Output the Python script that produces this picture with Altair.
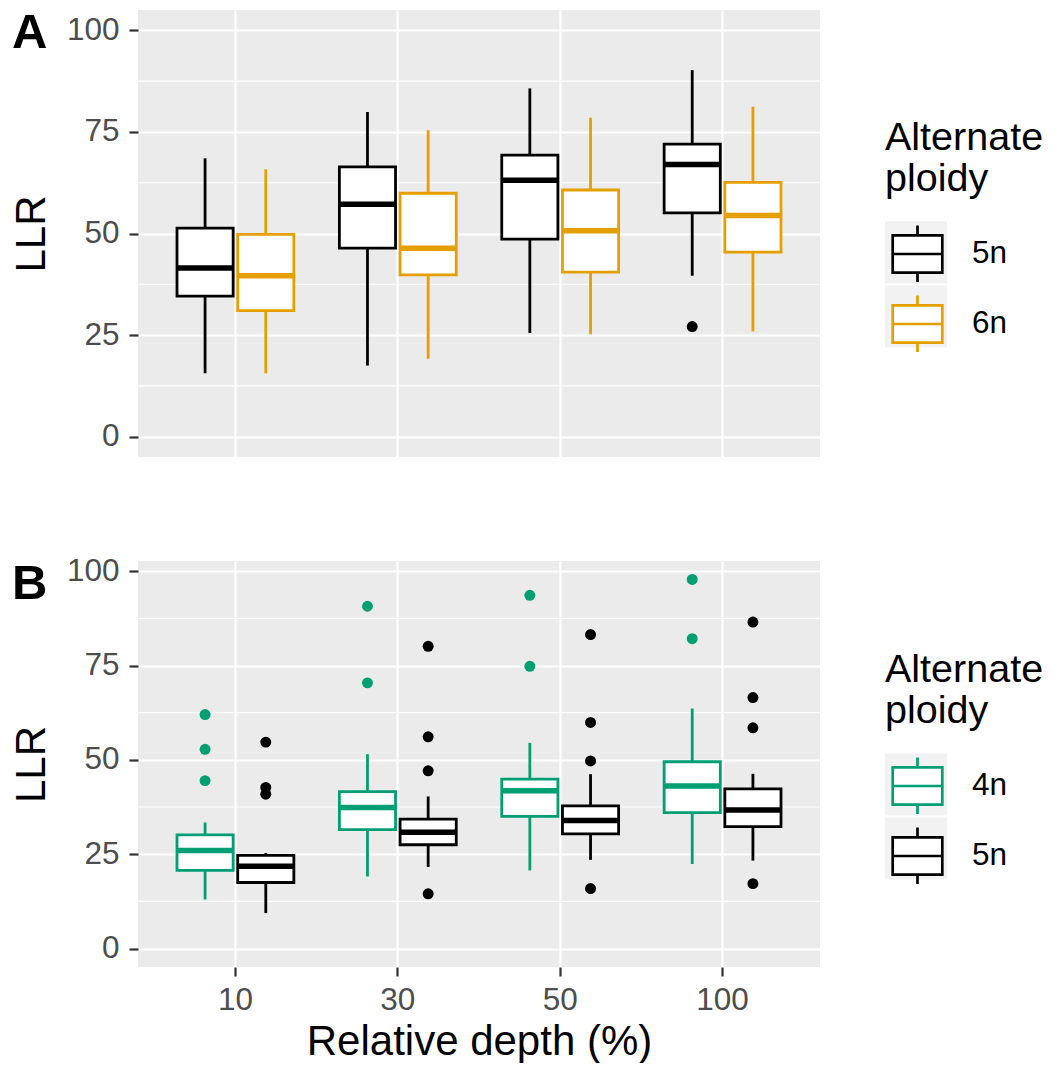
import altair as alt
import pandas as pd

FONT = "Liberation Sans"

depths = ["10", "30", "50", "100"]
panel_labels = ["A", "B"]
legend_title = ["Alternate", "ploidy"]

# ---- Panel A: alternate ploidy 5n / 6n ----
a_groups = ["5n", "6n"]
a_colors = ["#000000", "#E69F00"]
a_lower = {"5n": [15.6, 17.5, 25.5, 39.6], "6n": [15.6, 19.2, 25.2, 25.9]}
a_q1 = {"5n": [34.6, 46.4, 48.6, 55.1], "6n": [31.0, 39.8, 40.5, 45.4]}
a_med = {"5n": [41.5, 57.2, 63.1, 67.0], "6n": [39.6, 46.4, 50.7, 54.4]}
a_q3 = {"5n": [51.3, 66.4, 69.3, 72.0], "6n": [49.8, 59.9, 60.7, 62.6]}
a_upper = {"5n": [68.5, 79.9, 85.7, 90.2], "6n": [65.8, 75.4, 78.5, 81.2]}
a_out = {"5n": {"10": [], "30": [], "50": [], "100": [27.1]},
         "6n": {"10": [], "30": [], "50": [], "100": []}}

# ---- Panel B: alternate ploidy 4n / 5n ----
b_groups = ["4n", "5n"]
b_colors = ["#009E73", "#000000"]
b_lower = {"4n": [13.0, 19.1, 20.7, 22.4], "5n": [9.4, 21.6, 23.5, 23.3]}
b_q1 = {"4n": [20.7, 31.5, 35.0, 36.0], "5n": [17.5, 27.5, 30.4, 32.3]}
b_med = {"4n": [26.0, 37.4, 41.8, 43.1], "5n": [21.8, 30.8, 33.9, 36.7]}
b_q3 = {"4n": [30.1, 41.6, 44.9, 49.5], "5n": [24.7, 34.3, 37.8, 42.3]}
b_upper = {"4n": [33.4, 51.5, 54.5, 63.6], "5n": [25.3, 40.3, 46.2, 46.3]}
b_out = {"4n": {"10": [62.0, 52.8, 44.5], "30": [90.7, 70.4], "50": [93.6, 74.8], "100": [97.8, 82.1]},
         "5n": {"10": [54.7, 42.7, 40.9], "30": [80.1, 56.1, 47.1, 14.5],
                "50": [83.2, 59.9, 49.7, 15.9], "100": [86.5, 66.5, 58.5, 17.2]}}

y_ticks = [0, 25, 50, 75, 100]
y_minor = [12.5, 37.5, 62.5, 87.5]

BOX_PATH = ("M-0.8,-0.6L0.8,-0.6L0.8,0.6L-0.8,0.6Z M-0.8,0L0.8,0 "
            "M0,-0.6L0,-0.92 M0,0.6L0,0.9")


def make_box_df(groups, lower, q1, med, q3, upper):
    rows = []
    for g in groups:
        for i, d in enumerate(depths):
            rows.append({"depth": d, "ploidy": g, "key": "key " + g, "lower": lower[g][i],
                         "q1": q1[g][i], "median": med[g][i], "q3": q3[g][i],
                         "upper": upper[g][i]})
    return pd.DataFrame(rows)


def make_out_df(groups, out):
    rows = []
    for g in groups:
        for d in depths:
            for v in out[g][d]:
                rows.append({"depth": d, "ploidy": g, "value": v})
    return pd.DataFrame(rows, columns=["depth", "ploidy", "value"])


def panel(box_df, out_df, groups, colors, ydomain, height, label, show_x, legend_y):
    if show_x:
        xaxis = alt.Axis(title="Relative depth (%)", labelAngle=0, tickSize=9, labelPadding=8,
                         titlePadding=6)
    else:
        xaxis = alt.Axis(title=None, labels=False, ticks=False, domain=False)
    x = alt.X("depth:N", sort=depths, axis=xaxis,
              scale=alt.Scale(paddingInner=0, paddingOuter=0.1))
    xo = alt.XOffset("ploidy:N", sort=groups,
                     scale=alt.Scale(domain=groups, paddingInner=0.075, paddingOuter=0.375))
    yscale = alt.Scale(domain=ydomain, nice=False, zero=False)
    yaxis = alt.Axis(title="LLR", values=y_ticks, tickSize=9, labelPadding=10, titlePadding=13)
    sscale = alt.Scale(domain=groups, range=colors)
    # same colours, listed in reverse so this scale stays separate from the legend's
    cscale = alt.Scale(domain=groups[::-1], range=colors[::-1])
    keys = ["key " + g for g in groups]

    box_legend = alt.Legend(title=legend_title, symbolType=BOX_PATH, symbolSize=3844,
                            symbolStrokeWidth=2.7, symbolFillColor="white", symbolOpacity=1,
                            orient="none", legendX=747, legendY=legend_y, zindex=2)

    minor = alt.Chart(pd.DataFrame({"v": y_minor})).mark_rule(
        color="white", strokeWidth=1.1
    ).encode(y=alt.Y("v:Q", scale=yscale, axis=yaxis))

    keybg = alt.Chart(box_df).mark_square(opacity=0).encode(
        x=x, xOffset=xo, y=alt.Y("median:Q", scale=yscale, axis=yaxis),
        fill=alt.Fill("key:N", scale=alt.Scale(domain=keys, range=["#F2F2F2", "#F2F2F2"]),
                      legend=alt.Legend(title=[" ", " "], labelExpr="''", symbolType="square",
                                        symbolSize=3844, symbolOpacity=1, symbolStrokeWidth=0,
                                        symbolFillColor="#F2F2F2", zindex=1,
                                        orient="none", legendX=747, legendY=legend_y)),
    )

    whisk = alt.Chart(box_df).mark_rule(strokeWidth=2.8).encode(
        x=x, xOffset=xo, y=alt.Y("lower:Q", scale=yscale, axis=yaxis), y2="upper:Q",
        stroke=alt.Stroke("ploidy:N", scale=sscale, legend=box_legend),
    )
    box = alt.Chart(box_df).mark_bar(fill="white", strokeWidth=2.8).encode(
        x=x, xOffset=xo, y=alt.Y("q1:Q", scale=yscale, axis=yaxis), y2="q3:Q",
        stroke=alt.Stroke("ploidy:N", scale=sscale, legend=box_legend),
    )
    med = alt.Chart(box_df).mark_tick(thickness=5.5, size=56, opacity=1).encode(
        x=x, xOffset=xo, y=alt.Y("median:Q", scale=yscale, axis=yaxis),
        color=alt.Color("ploidy:N", scale=cscale, legend=None),
    )
    outl = alt.Chart(out_df).mark_circle(size=120, opacity=1).encode(
        x=x, xOffset=xo, y=alt.Y("value:Q", scale=yscale, axis=yaxis),
        color=alt.Color("ploidy:N", scale=cscale, legend=None),
    )
    lab = alt.Chart(alt.Data(values=[{"t": label}])).mark_text(
        align="left", baseline="alphabetic", fontSize=49, fontWeight="bold", font=FONT,
        color="black"
    ).encode(x=alt.value(-126), y=alt.value(38), text="t:N")

    return alt.layer(minor, keybg, whisk, box, med, outl, lab).properties(width=682, height=height)


box_a = make_box_df(a_groups, a_lower, a_q1, a_med, a_q3, a_upper)
out_a = make_out_df(a_groups, a_out)
box_b = make_box_df(b_groups, b_lower, b_q1, b_med, b_q3, b_upper)
out_b = make_out_df(b_groups, b_out)

pa = panel(box_a, out_a, a_groups, a_colors, [-5, 105], 447, panel_labels[0], False, 109)
pb = panel(box_b, out_b, b_groups, b_colors, [-4.89, 102.69], 406, panel_labels[1], True, 90)

chart = alt.vconcat(pa, pb, spacing=98).resolve_scale(
    color="independent", stroke="independent", fill="independent",
    xOffset="independent", x="independent", y="independent"
).properties(
    padding={"left": 2, "top": 1, "right": 0, "bottom": 0}
).configure_view(
    fill="#EBEBEB", stroke=None
).configure_axis(
    grid=True, gridColor="white", gridWidth=2.2, domain=False,
    tickColor="#333333", tickWidth=2.2,
    labelFont=FONT, labelFontSize=31.5, labelColor="#4D4D4D",
    titleFont=FONT, titleFontSize=42, titleFontWeight="normal", titleColor="black",
).configure_legend(
    titleFont=FONT, titleFontSize=39.5, titleFontWeight="normal", titleColor="black",
    titleLineHeight=41, titlePadding=22, titleLimit=400,
    labelFont=FONT, labelFontSize=31.5, labelColor="black", labelOffset=22,
    rowPadding=2, padding=0,
)

chart.save("out.html", embed_options={"renderer": "svg", "actions": False})
